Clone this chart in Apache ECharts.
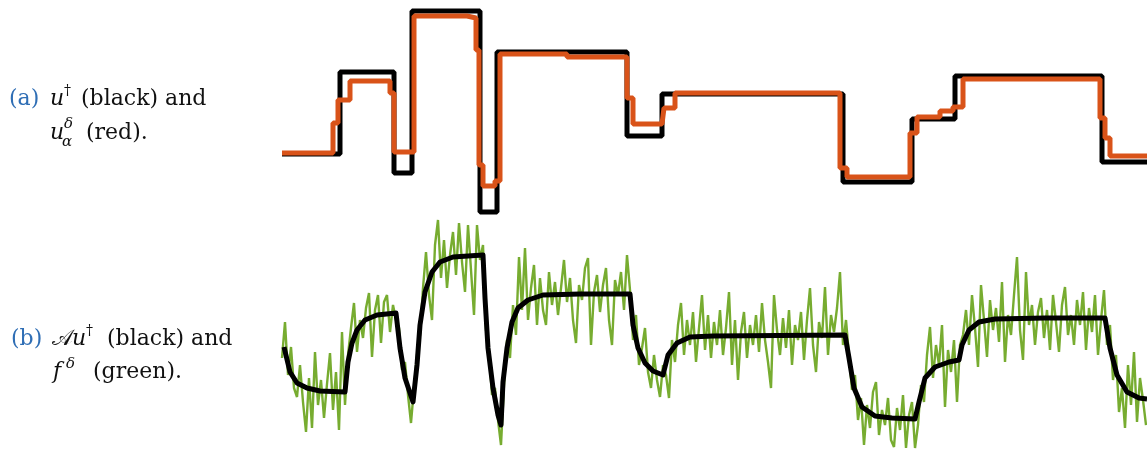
<!DOCTYPE html>
<html>
<head>
<meta charset="utf-8">
<script src="https://cdn.jsdelivr.net/npm/echarts@6/dist/echarts.min.js"></script>
<style>
  html, body { margin: 0; padding: 0; background: #ffffff; }
  #chart { width: 1147px; height: 450px; }
</style>
</head>
<body>
<div id="chart"></div>
<script>
// ---------- Data (signal domain: samples 0..865) ----------
const domainMax = 865;

// Panel (a): exact solution u† (black), piecewise constant; value holds from t until next t
const uTrueT = [0, 58, 112, 130, 198, 215, 345, 380, 561, 630, 673, 820];
const uTrueV = [0.61, 1.43, 0.42, 2.04, 0.03, 1.63, 0.79, 1.21, 0.33, 0.96, 1.39, 0.53];

// Panel (a): regularized solution u_α^δ (red), piecewise constant
const uRegT = [0, 51, 56, 68, 108, 112, 132, 185, 194, 197, 201, 213, 218, 285, 345, 351, 380, 382, 393, 558, 565, 628, 635, 658, 671, 681, 818, 823, 828];
const uRegV = [0.62, 0.92, 1.15, 1.34, 1.22, 0.63, 1.99, 1.97, 1.65, 0.50, 0.29, 0.34, 1.61, 1.58, 1.17, 0.91, 0.93, 1.07, 1.22, 0.47, 0.38, 0.82, 0.98, 1.04, 1.08, 1.36, 0.97, 0.77, 0.59];

// Panel (b): exact data A u† (black)
const auT = [2, 8, 15, 25, 38, 63, 66, 70, 75, 83, 95, 114, 118, 123, 128, 131, 135, 138, 143, 150, 158, 171, 201, 203, 206, 211, 216, 219, 221, 225, 230, 236, 246, 261, 298, 348, 351, 356, 363, 371, 381, 386, 395, 408, 431, 563, 567, 572, 580, 593, 610, 633, 637, 643, 653, 667, 677, 680, 687, 697, 713, 763, 823, 828, 835, 845, 857, 865];
const auV = [1.03, 0.78, 0.67, 0.62, 0.59, 0.58, 0.88, 1.07, 1.20, 1.30, 1.35, 1.37, 1.02, 0.72, 0.57, 0.48, 0.85, 1.25, 1.58, 1.78, 1.88, 1.93, 1.95, 1.52, 1.02, 0.62, 0.35, 0.25, 0.68, 1.02, 1.28, 1.42, 1.50, 1.55, 1.56, 1.56, 1.25, 1.02, 0.87, 0.79, 0.75, 0.95, 1.07, 1.13, 1.14, 1.15, 0.92, 0.62, 0.43, 0.34, 0.32, 0.31, 0.48, 0.72, 0.83, 0.88, 0.90, 1.05, 1.20, 1.28, 1.31, 1.32, 1.32, 1.02, 0.75, 0.58, 0.52, 0.51];

// Panel (b): noisy data f^δ (green), one sample every 3 units starting at 0
const noisyStep = 3;
const noisyV = [
  // 0..63
  0.92, 1.28, 0.75, 1.03, 0.62, 0.53, 0.85, 0.48, 0.18, 0.72, 0.22, 0.98, 0.45, 0.70, 0.32, 0.66, 0.97, 0.40, 0.78, 0.20, 1.18, 0.45,
  // 66..114
  0.95, 1.22, 1.47, 0.98, 1.30, 1.12, 1.42, 1.57, 0.93, 1.40, 1.55, 1.07, 1.48, 1.55, 1.18, 1.45, 1.30,
  // 117..132
  1.22, 0.80, 0.88, 0.55, 0.27, 0.62,
  // 135..171
  0.95, 1.15, 1.62, 1.98, 1.55, 1.30, 2.05, 2.30, 1.72, 2.10, 1.62, 1.95, 2.18,
  // 174..201
  1.75, 2.27, 1.88, 1.58, 2.25, 1.80, 1.35, 2.25, 1.90, 2.05,
  // 204..219
  1.20, 0.98, 0.55, 0.62, 0.30, 0.05,
  // 222..261
  0.65, 1.10, 0.92, 1.45, 1.15, 1.93, 1.40, 2.02, 1.30, 1.62, 1.85, 1.25, 1.72, 1.40,
  // 264..348
  1.25, 1.78, 1.45, 1.68, 1.35, 1.62, 1.90, 1.48, 1.72, 1.30, 1.07, 1.65, 1.50, 1.82, 1.92, 1.05, 1.58, 1.75, 1.38, 1.65, 1.82, 1.30, 1.05, 1.70, 1.55, 1.78, 1.40, 1.95, 1.60,
  // 351..381
  1.10, 1.35, 0.85, 1.02, 1.22, 0.78, 0.62, 0.95, 0.70, 0.53, 0.85,
  // 384..432
  0.75, 0.52, 1.10, 0.88, 1.25, 1.47, 0.95, 1.30, 1.05, 1.38, 0.88, 1.22, 1.55, 1.00, 1.35, 0.92, 1.28,
  // 435..564
  1.05, 1.40, 0.95, 1.22, 1.58, 0.85, 1.30, 0.70, 1.18, 1.38, 0.92, 1.25, 1.05, 1.35, 0.98, 1.47, 1.10, 0.88, 0.62, 1.55, 1.20, 0.95,
  1.32, 1.02, 1.40, 0.85, 1.25, 1.10, 1.38, 0.90, 1.30, 1.62, 1.05, 0.78, 1.28, 1.12, 1.63, 0.95, 1.35, 1.18, 1.42, 1.78, 1.05, 1.30,
  // 567..633
  0.95, 0.60, 0.75, 0.30, 0.52, 0.05, 0.45, 0.22, 0.58, 0.68, 0.15, 0.40, 0.25, 0.52, 0.10, 0.03, 0.42, 0.20, 0.55, 0.02, 0.35, 0.48, 0.02,
  // 636..678
  0.25, 0.65, 0.48, 0.95, 1.23, 0.72, 1.05, 0.85, 1.25, 0.43, 1.00, 0.78, 1.10, 0.48, 1.05,
  // 681..822
  1.15, 1.40, 1.05, 1.55, 1.22, 0.83, 1.65, 1.30, 0.93, 1.50, 1.20, 1.42, 1.08, 1.68, 0.88, 1.35, 1.15, 1.55, 1.93, 1.20, 0.90, 1.78, 1.25, 1.45,
  1.05, 1.38, 1.52, 1.12, 1.40, 1.00, 1.55, 1.28, 0.98, 1.45, 1.63, 1.15, 1.35, 1.05, 1.50, 1.25, 1.58, 1.00, 1.42, 1.18, 1.55, 0.95, 1.30, 1.60,
  // 825..864
  1.05, 1.25, 0.70, 0.95, 0.38, 0.62, 0.22, 0.85, 0.45, 0.98, 0.28, 0.72, 0.50, 0.25
];

// ---------- Build series data ----------
function stepPairs(ts, vs) {
  const out = ts.map((t, i) => [t, vs[i]]);
  out.push([domainMax, vs[vs.length - 1]]);
  return out;
}
const uTrueData = stepPairs(uTrueT, uTrueV);
const uRegData = stepPairs(uRegT, uRegV);
const auData = auT.map((t, i) => [t, auV[i]]);
const noisyData = noisyV.map((v, i) => [i * noisyStep, v]);

const COLORS = { black: '#000000', red: '#D95319', green: '#77AC30', blue: '#2f6eb5' };
const SERIF = '"DejaVu Serif", serif';

const chart = echarts.init(document.getElementById('chart'), null, { renderer: 'canvas' });

function txt(x, y, text, opts) {
  opts = opts || {};
  return {
    type: 'text', x: x, y: y, silent: true,
    style: {
      text: text,
      fill: opts.fill || '#111111',
      fontFamily: SERIF,
      fontSize: opts.size || 22,
      fontStyle: opts.italic ? 'italic' : 'normal',
      align: 'left',
      verticalAlign: 'middle'
    }
  };
}

const option = {
  animation: false,
  backgroundColor: '#ffffff',
  grid: [
    { left: 282, right: 0, top: 0, height: 215 },
    { left: 282, right: 0, top: 215, height: 235 }
  ],
  xAxis: [
    { type: 'value', gridIndex: 0, min: 0, max: domainMax, show: false },
    { type: 'value', gridIndex: 1, min: 0, max: domainMax, show: false }
  ],
  yAxis: [
    { type: 'value', gridIndex: 0, min: 0, max: 2.15, show: false },
    { type: 'value', gridIndex: 1, min: 0, max: 2.35, show: false }
  ],
  series: [
    { type: 'line', name: 'u†', xAxisIndex: 0, yAxisIndex: 0, data: uTrueData, step: 'end',
      showSymbol: false, lineStyle: { color: COLORS.black, width: 5 }, z: 2 },
    { type: 'line', name: 'u_alpha^delta', xAxisIndex: 0, yAxisIndex: 0, data: uRegData, step: 'end',
      showSymbol: false, lineStyle: { color: COLORS.red, width: 5 }, z: 3 },
    { type: 'line', name: 'f^delta', xAxisIndex: 1, yAxisIndex: 1, data: noisyData,
      showSymbol: false, lineStyle: { color: COLORS.green, width: 2.4 }, z: 2 },
    { type: 'line', name: 'Au†', xAxisIndex: 1, yAxisIndex: 1, data: auData,
      showSymbol: false, lineStyle: { color: COLORS.black, width: 5, join: 'round' }, z: 3 }
  ],
  graphic: [
    // (a)
    txt(9, 99, '(a)', { fill: COLORS.blue }),
    txt(50, 99, 'u', { italic: true }),
    txt(64, 91, '†', { size: 14 }),
    txt(81, 99, '(black) and'),
    txt(50, 133, 'u', { italic: true }),
    txt(64, 124, 'δ', { italic: true, size: 15 }),
    txt(62, 142, 'α', { italic: true, size: 15 }),
    txt(86, 133, '(red).'),
    // (b)
    txt(11, 339, '(b)', { fill: COLORS.blue }),
    txt(52, 339, '𝒜', { italic: false }),
    txt(72, 339, 'u', { italic: true }),
    txt(86, 331, '†', { size: 14 }),
    txt(107, 339, '(black) and'),
    txt(53, 372, 'f', { italic: true }),
    txt(66, 364, 'δ', { italic: true, size: 15 }),
    txt(93, 372, '(green).')
  ]
};
chart.setOption(option);
</script>
</body>
</html>
